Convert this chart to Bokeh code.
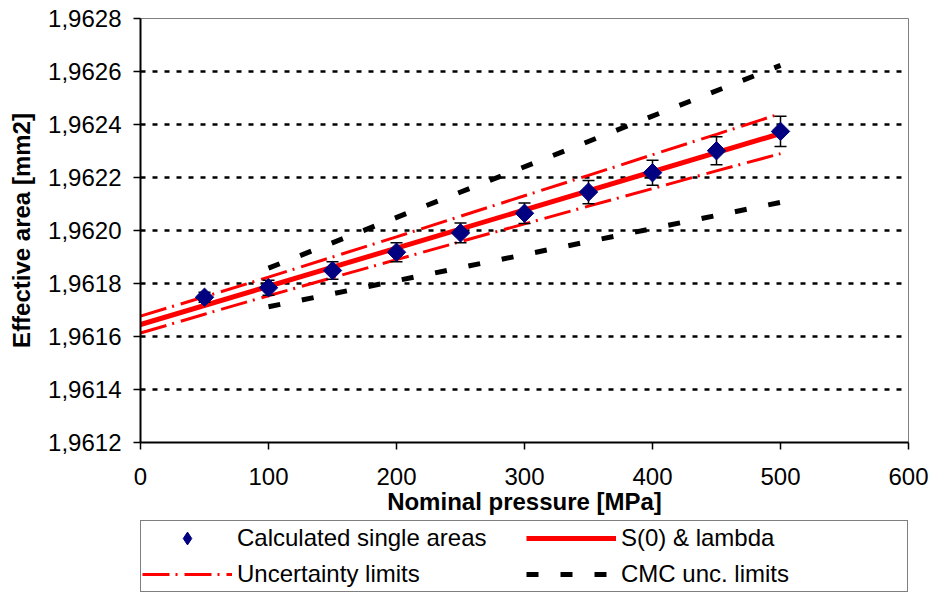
from bokeh.plotting import figure
from bokeh.layouts import column
from bokeh.models import (ColumnDataSource, Legend, LegendItem, FixedTicker,
                          CustomJSTickFormatter, Range1d)
from bokeh.embed import file_html
from bokeh.resources import INLINE

# ---------------- data ----------------
pressure = [50, 100, 150, 200, 250, 300, 350, 400, 450, 500]
area = [1.961748, 1.961784, 1.961849, 1.961918, 1.961991,
        1.962065, 1.962145, 1.962218, 1.962301, 1.962374]
area_err = [0.000019, 0.000028, 0.000033, 0.000036, 0.000037,
            0.000039, 0.000044, 0.000047, 0.000053, 0.000057]

fit_x = [0, 500]
fit_y = [1.961645, 1.962366]

unc_x = [0, 50, 100, 150, 200, 250, 300, 350, 400, 450, 500]
unc_upper = [1.961677, 1.961750, 1.961824, 1.961900, 1.961976, 1.962054,
             1.962131, 1.962208, 1.962286, 1.962363, 1.962441]
unc_lower = [1.961613, 1.961684, 1.961754, 1.961822, 1.961890, 1.961958,
             1.962025, 1.962092, 1.962158, 1.962225, 1.962290]

cmc_x = [100, 500]
cmc_upper = [1.961858, 1.962623]
cmc_lower = [1.961712, 1.962106]

x_ticks = [0, 100, 200, 300, 400, 500, 600]
y_ticks = [1.9612, 1.9614, 1.9616, 1.9618, 1.9620, 1.9622, 1.9624, 1.9626, 1.9628]

labels = ["Calculated single areas", "S(0) & lambda", "Uncertainty limits", "CMC unc. limits"]

FONT = "Liberation Sans"
RED = "#FF0000"
NAVY = "#000080"

# styles
CMC_STYLE = dict(line_color="black", line_width=5, line_dash="12 22")
UNC_STYLE = dict(line_color=RED, line_width=3, line_dash="27 6 2 7")
FIT_STYLE = dict(line_color=RED, line_width=5)

# ---------------- main figure ----------------
p = figure(width=933, height=517, output_backend="svg", toolbar_location=None,
           x_range=Range1d(0, 600), y_range=Range1d(1.9612, 1.9628),
           min_border_left=140, min_border_right=25, min_border_top=18,
           min_border_bottom=75)
p.background_fill_color = "white"
p.border_fill_color = "white"
p.outline_line_color = "#808080"
p.outline_line_width = 1

p.xgrid.visible = False
p.ygrid.ticker = FixedTicker(ticks=y_ticks)
p.ygrid.grid_line_color = "black"
p.ygrid.grid_line_width = 2.5
p.ygrid.grid_line_dash = "5 7"

p.xaxis.ticker = FixedTicker(ticks=x_ticks)
p.yaxis.ticker = FixedTicker(ticks=y_ticks)
p.yaxis.formatter = CustomJSTickFormatter(code="return tick.toFixed(4).replace('.', ',');")
p.xaxis.minor_tick_line_color = None
p.yaxis.minor_tick_line_color = None
for ax in (p.xaxis, p.yaxis):
    ax.axis_line_color = "black"
    ax.axis_line_width = 2
    ax.major_tick_line_color = "black"
    ax.major_tick_line_width = 1.5
    ax.major_tick_in = 0
    ax.major_tick_out = 7
    ax.major_label_text_font = FONT
    ax.major_label_text_font_size = "24px"
    ax.major_label_text_color = "black"
    ax.axis_label_text_font = FONT
    ax.axis_label_text_font_size = "24px"
    ax.axis_label_text_font_style = "bold"
    ax.axis_label_text_color = "black"
p.xaxis.axis_label = "Nominal pressure [MPa]"
p.yaxis.axis_label = "Effective area [mm2]"
p.xaxis.major_label_standoff = 18
p.yaxis.major_label_standoff = 12
p.xaxis.axis_label_standoff = 0
p.yaxis.axis_label_standoff = 10

# CMC limits
p.line(cmc_x, cmc_upper, **CMC_STYLE)
p.line(cmc_x, cmc_lower, **CMC_STYLE)

# uncertainty limits
p.line(unc_x, unc_upper, **UNC_STYLE)
p.line(unc_x, unc_lower, **UNC_STYLE)

# fit
p.line(fit_x, fit_y, **FIT_STYLE)

# error bars
src = ColumnDataSource(dict(
    x=pressure, y=area,
    lo=[a - e for a, e in zip(area, area_err)],
    hi=[a + e for a, e in zip(area, area_err)],
))
p.segment(x0="x", y0="lo", x1="x", y1="hi", source=src, line_color="black", line_width=1.5)
p.scatter(x="x", y="lo", source=src, marker="dash", size=12, line_color="black", line_width=1.5)
p.scatter(x="x", y="hi", source=src, marker="dash", size=12, line_color="black", line_width=1.5)

# points (diamonds = squares turned by 45 degrees)
p.scatter(x="x", y="y", source=src, marker="square", angle=0.785398, size=13,
          fill_color=NAVY, line_color=NAVY)

# ---------------- legend strip ----------------
lg = figure(width=933, height=78, output_backend="svg", toolbar_location=None,
            x_range=Range1d(0, 1), y_range=Range1d(0, 1), min_border=0)
lg.axis.visible = False
lg.grid.visible = False
lg.outline_line_color = None
lg.background_fill_color = "white"
lg.border_fill_color = "white"

# legend sample renderers (kept outside the visible range)
k_pts = lg.scatter([-5], [-5], marker="diamond", size=13, fill_color=NAVY, line_color=NAVY)
k_fit = lg.line([-5, -4], [-5, -4], **FIT_STYLE)
k_unc = lg.line([-5, -4], [-5, -4], **UNC_STYLE)
k_cmc = lg.line([-5, -4], [-5, -4], **CMC_STYLE)

legend = Legend(items=[
    LegendItem(label=labels[0], renderers=[k_pts]),
    LegendItem(label=labels[1], renderers=[k_fit]),
    LegendItem(label=labels[2], renderers=[k_unc]),
    LegendItem(label=labels[3], renderers=[k_cmc]),
], orientation="horizontal", nrows=2)
legend.label_text_font = FONT
legend.label_text_font_size = "24px"
legend.label_text_color = "black"
legend.glyph_width = 90
legend.glyph_height = 32
legend.label_height = 29
legend.label_standoff = 5
legend.label_width = 285
legend.spacing = 4
legend.padding = 1
legend.margin = 0
legend.border_line_color = "black"
legend.border_line_width = 1
legend.background_fill_color = "white"
legend.location = (0, 3)
lg.add_layout(legend, "center")

layout = column(p, lg, spacing=0)
open("out.html", "w").write(file_html(layout, INLINE))
